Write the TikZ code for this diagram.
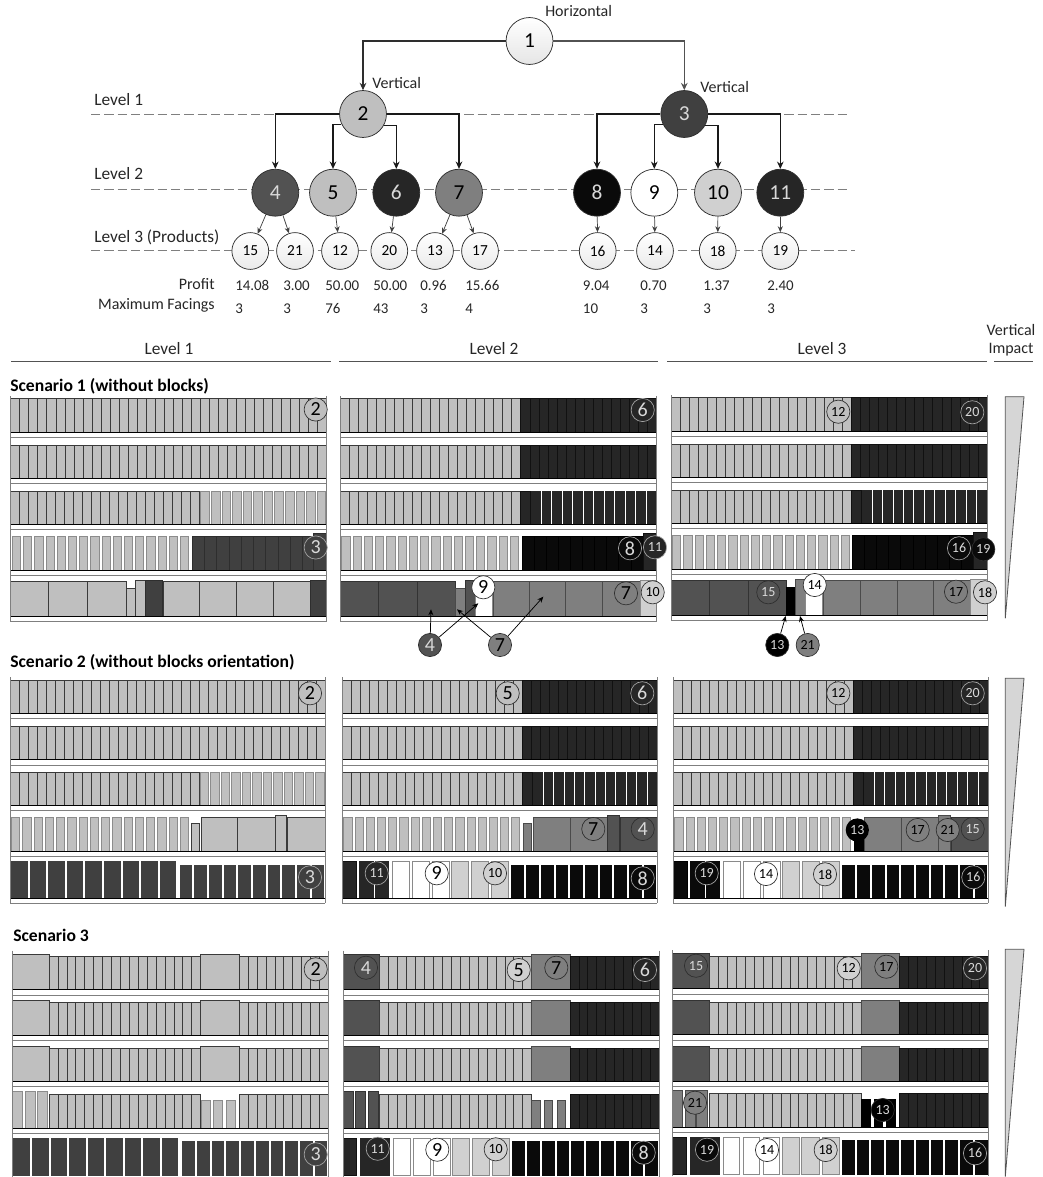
\documentclass[tikz,border=0pt]{standalone}
\usepackage{fontspec}
\setmainfont{Carlito}
\usetikzlibrary{arrows.meta}
\definecolor{gA}{HTML}{BFBFBF}\definecolor{gAe}{HTML}{3A3A3A}\definecolor{gAg}{HTML}{8C8C8C}
\definecolor{gD}{HTML}{404040}\definecolor{gDe}{HTML}{2E2E2E}\definecolor{gDg}{HTML}{404040}
\definecolor{gE}{HTML}{525252}\definecolor{gEe}{HTML}{333333}\definecolor{gEg}{HTML}{525252}
\definecolor{gF}{HTML}{262626}\definecolor{gFe}{HTML}{111111}\definecolor{gFg}{HTML}{262626}
\definecolor{gG}{HTML}{7F7F7F}\definecolor{gGe}{HTML}{4A4A4A}\definecolor{gGg}{HTML}{7F7F7F}
\definecolor{gK}{HTML}{0A0A0A}\definecolor{gKe}{HTML}{000000}\definecolor{gKg}{HTML}{0A0A0A}
\definecolor{gB}{HTML}{000000}\definecolor{gBe}{HTML}{000000}\definecolor{gBg}{HTML}{000000}
\definecolor{gW}{HTML}{FFFFFF}\definecolor{gWe}{HTML}{8A8A8A}\definecolor{gWg}{HTML}{8A8A8A}
\definecolor{gL}{HTML}{D0D0D0}\definecolor{gLe}{HTML}{8A8A8A}\definecolor{gLg}{HTML}{8A8A8A}
\definecolor{tl}{HTML}{D9D9D9}
\definecolor{shelf}{HTML}{7F7F7F}
\definecolor{ringl}{HTML}{A6A6A6}
\tikzset{
  bigc/.style={circle,draw=gDe,line width=.55pt,minimum size=35.2pt,inner sep=0pt,font=\fontsize{16}{18}\selectfont},
  smallc/.style={circle,draw=gDe,line width=.55pt,minimum size=27.6pt,inner sep=0pt,font=\fontsize{11.5}{13}\selectfont,top color=white,bottom color=black!8},
  labA/.style={circle,draw=gDe,line width=.5pt,minimum size=17.4pt,inner sep=0pt,font=\fontsize{15}{16}\selectfont},
  labB/.style={circle,draw=gDe,line width=.5pt,minimum size=17.4pt,inner sep=0pt,font=\fontsize{10.5}{12}\selectfont},
  onDark/.style={draw=ringl,text=tl},
  txt/.style={inner sep=0pt,font=\fontsize{12}{14}\selectfont,text=black!85},
  lev/.style={inner sep=0pt,font=\fontsize{13}{15}\selectfont,text=black!85},
  val/.style={inner sep=0pt,anchor=mid west,font=\fontsize{11.2}{13}\selectfont,text=black!85},
  head/.style={inner sep=0pt,anchor=mid west,font=\fontsize{13.2}{15}\bfseries\selectfont},
  link/.style={line width=.85pt,draw=black!90,-{Stealth[length=5.5pt,width=5pt]}},
  thin link/.style={line width=.55pt,draw=gD,-{Stealth[length=4.5pt,width=3.8pt]}},
  dashline/.style={line width=.7pt,draw=gG,dash pattern=on 7pt off 3pt},
  rulel/.style={line width=.7pt,draw=gE},
  wedge/.style={draw=gE,line width=.6pt,fill=black!16},
}
% facings: x0,x1,top,bottom,n,colour,gap
\newcommand\fac[7]{%
  \pgfmathsetmacro\facw{(#2-#1)/#5}%
  \ifdim #7pt>0pt\def\facedge{#6g}\else\def\facedge{#6e}\fi
  \foreach \i in {1,...,#5}{%
    \pgfmathsetmacro\xa{#1+(\i-1)*\facw+#7/2}%
    \pgfmathsetmacro\xb{#1+\i*\facw-#7/2}%
    \path[fill=#6,draw=\facedge,line width=.5pt] (\xa,#3) rectangle (\xb,#4);
  }}
% frame of a unit: width, top, bottom, shelf ys, row bottoms
\newcommand\unitframe[5]{%
  \foreach \yy in {#5}{\draw[black,line width=.75pt] (0,\yy) -- (#1,\yy);}
  \foreach \yy in {#4}{\draw[shelf,line width=.75pt] (0,\yy) -- (#1,\yy);}
  \draw[shelf,line width=.6pt] (0,#2) -- (0,#3) (#1,#2) -- (#1,#3);}
% common three upper rows of levels 2 and 3
\newcommand\splitrow[3]{\fac{0}{180.5}{#1}{#2}{20}{gA}{0}\fac{180.5}{#3}{#1}{#2}{15}{gF}{0}}
\newcommand\splitgap[3]{\fac{0}{180.5}{#1}{#2}{20}{gA}{0}\fac{180.5}{190}{#1}{#2}{1}{gF}{0}\fac{190.5}{#3}{#1}{#2}{12}{gF}{2}}
% lower row of scenarios 2 and 3, levels 2 and 3
\newcommand\lowrow[5]{% tall top, low top, bottom, width, colour of left part
  \fac{0}{13.6}{#1}{#3}{1}{#5}{0}\fac{16.7}{47}{#1}{#3}{2}{#5}{1.4}%
  \fac{50.3}{67}{#1}{#3}{1}{gW}{0}\fac{70.3}{87}{#1}{#3}{1}{gW}{0}\fac{90.3}{107}{#1}{#3}{1}{gW}{0}%
  \fac{109.3}{126.5}{#1}{#3}{1}{gL}{0}\fac{129}{146.5}{#1}{#3}{1}{gL}{0}\fac{149.3}{166.5}{#1}{#3}{1}{gL}{0}%
  \fac{168}{#4}{#2}{#3}{10}{gK}{3}}
\begin{document}
\begin{tikzpicture}[x=.75pt,y=-.75pt]
\useasboundingbox (0,0) rectangle (1042,1177);
% ---------- level guide lines
\coordinate (d1a) at (91,114.5); \coordinate (d1b) at (850,114.5);
\coordinate (d2a) at (91,189);   \coordinate (d2b) at (850,189);
\coordinate (d3a) at (91,250.7); \coordinate (d3b) at (855,250.7);
\draw[dashline] (d1a) -- (d1b);
\draw[dashline] (d2a) -- (d2b);
\draw[dashline] (d3a) -- (d3b);
% ---------- tree
\node[bigc,top color=white,bottom color=black!10] (n1) at (529.5,41) {1};
\node[bigc,fill=gA] (n2) at (363,114) {2};
\node[bigc,fill=gD,text=tl] (n3) at (684.3,114) {3};
\node[bigc,fill=gE,text=tl] (n4) at (275.3,192.7) {4};
\node[bigc,fill=gA] (n5) at (333,192.7) {5};
\node[bigc,fill=gF,text=tl] (n6) at (396.3,192.7) {6};
\node[bigc,fill=gG] (n7) at (459,192.7) {7};
\node[bigc,fill=gK,text=tl] (n8) at (597,192.7) {8};
\node[bigc,fill=white] (n9) at (654.3,192.7) {9};
\node[bigc,fill=gL] (n10) at (718,192.7) {10};
\node[bigc,fill=gF,text=tl] (n11) at (780.3,192.7) {11};
\node[smallc] (p15) at (250.3,251) {15};
\node[smallc] (p21) at (295,251) {21};
\node[smallc] (p12) at (340,251) {12};
\node[smallc] (p20) at (389.3,251) {20};
\node[smallc] (p13) at (435,251) {13};
\node[smallc] (p17) at (480,251) {17};
\node[smallc] (p16) at (597.7,251) {16};
\node[smallc] (p14) at (655,251) {14};
\node[smallc] (p18) at (717.7,251) {18};
\node[smallc] (p19) at (780.3,251) {19};
\draw[link,draw=gDe] (n1.west) -| (n2.north);
\draw[link,draw=gE] (n1.east) -| (n3.north);
\draw[link] (n2.west) -| (n4.north);
\draw[link] (n2.205) -| (n5.north);
\draw[link] (n2.330) -| (n6.north);
\draw[link] (n2.east) -| (n7.north);
\draw[link] (n3.west) -| (n8.north);
\draw[link] (n3.205) -| (n9.north);
\draw[link] (n3.330) -| (n10.north);
\draw[link] (n3.east) -| (n11.north);
\draw[thin link] (n4) -- (p15);
\draw[thin link] (n4) -- (p21);
\draw[thin link] (n5) -- (p12);
\draw[thin link] (n6) -- (p20);
\draw[thin link] (n7) -- (p13);
\draw[thin link] (n7) -- (p17);
\draw[thin link] (n8) -- (p16);
\draw[thin link] (n9) -- (p14);
\draw[thin link] (n10) -- (p18);
\draw[thin link] (n11) -- (p19);
\node[lev,anchor=mid west] (t1) at (94,102) {Level 1};
\node[lev,anchor=mid west] (t2) at (94,176) {Level 2};
\node[lev,anchor=mid west] (t3) at (94,239) {Level 3 (Products)};
\node[txt,anchor=mid west] (t4) at (545,13) {Horizontal};
\node[txt,anchor=mid west] (t5) at (372,85) {Vertical};
\node[txt,anchor=mid west] (t6) at (700,89) {Vertical};
\node[txt,anchor=mid east] (t7) at (215,286) {Profit};
\node[txt,anchor=mid east] (t8) at (215,306) {Maximum Facings};
\foreach \nm/\xx/\pv/\mv in {a/235/14.08/3,b/283/3.00/3,c/325/50.00/76,d/373/50.00/43,e/420/0.96/3,f/465/15.66/4,g/582.7/9.04/10,h/640/0.70/3,i/703/1.37/3,j/767/2.40/3}{
  \node[val] (pf\nm) at (\xx,287) {\pv};
  \node[val] (mf\nm) at (\xx,310) {\mv};
}
\node[lev] (h1) at (169,349) {Level 1};
\node[lev] (h2) at (494,349) {Level 2};
\node[lev] (h3) at (822,349) {Level 3};
\node[txt] (h4) at (1011,330) {Vertical};
\node[txt] (h5) at (1011,350) {Impact};
\draw[rulel] (11,361) -- (331,361);
\draw[rulel] (339,361) -- (658,361);
\draw[rulel] (667,361) -- (987,361);
\draw[rulel] (994,361) -- (1033,361);
\node[head] (s1) at (10,388) {Scenario 1 (without blocks)};
\node[head] (s2) at (10,664) {Scenario 2 (without blocks orientation)};
\node[head] (s3) at (13,938) {Scenario 3};
% ---------- wedges
\draw[wedge] (1005.3,396.7) -- (1024,396.7) -- (1005.3,618.3) -- cycle;
\draw[wedge] (1005.3,678.3) -- (1024,678.3) -- (1005.3,906.7) -- cycle;
\draw[wedge] (1005.3,949.3) -- (1024,949.3) -- (1005.3,1176.7) -- cycle;
% ========== SCENARIO 1
\begin{scope}[shift={(10.7,0)}]
\fac{0}{316}{398.3}{432.3}{35}{gA}{0}
\fac{0}{316}{445}{478.3}{35}{gA}{0}
\fac{0}{189}{491}{524.3}{21}{gA}{0}\fac{189}{316}{491}{524.3}{12}{gA}{2}
\fac{0}{179.5}{536.7}{570.3}{16}{gA}{3}\fac{181.7}{316}{536.7}{570.3}{11}{gD}{0}\fac{302.7}{316}{533.3}{570.3}{1}{gD}{0}
\fac{0}{38}{581.7}{616}{1}{gA}{0}\fac{38}{77}{581.7}{616}{1}{gA}{0}\fac{77}{115.5}{581.7}{616}{1}{gA}{0}
\fac{115.5}{125}{588}{616}{1}{gA}{0}\fac{125}{135}{580.5}{616}{1}{gA}{0}\fac{135}{152}{580}{616}{1}{gD}{0}
\fac{152.7}{189}{581.7}{616}{1}{gA}{0}\fac{189}{225.5}{581.7}{616}{1}{gA}{0}\fac{225.5}{262.5}{581.7}{616}{1}{gA}{0}\fac{262.5}{299.5}{581.7}{616}{1}{gA}{0}
\fac{299.5}{316}{580}{616}{1}{gD}{0}
\unitframe{316}{396}{622}{437.3,483.3,529.3,575,621.7}{432.3,478.3,524.3,570.3,616}
\end{scope}
\begin{scope}[shift={(340.3,0)}]
\splitrow{398.3}{432.3}{316.3}
\splitrow{445}{478.3}{316.3}
\splitgap{491}{524.3}{316.3}
\fac{0}{179.7}{536.7}{570.3}{16}{gA}{3}\fac{181.7}{302.7}{536.7}{570.3}{10}{gK}{0}\fac{302.7}{316.3}{533.3}{570.3}{1}{gF}{0}
\fac{0}{38}{581.7}{616}{1}{gE}{0}\fac{38}{77}{581.7}{616}{1}{gE}{0}\fac{77}{115.3}{581.7}{616}{1}{gE}{0}
\fac{115.3}{124.7}{588}{616}{1}{gG}{0}\fac{124.7}{135.3}{580}{616}{1}{gE}{0}\fac{135.3}{152}{580}{616}{1}{gW}{0}
\fac{152.7}{189}{581.7}{616}{1}{gG}{0}\fac{189}{225}{581.7}{616}{1}{gG}{0}\fac{225}{262.3}{581.7}{616}{1}{gG}{0}\fac{262.3}{299.7}{581.7}{616}{1}{gG}{0}
\fac{299.7}{316.3}{580}{616}{1}{gL}{0}
\unitframe{316.3}{396}{622}{437.3,483.3,529.3,575,621.7}{432.3,478.3,524.3,570.3,616}
\end{scope}
\begin{scope}[shift={(671,-1)}]
\splitrow{398.3}{432.3}{316}
\splitrow{445}{478.3}{316}
\splitgap{491}{524.3}{316}
\fac{0}{180}{536.7}{570.3}{16}{gA}{3}\fac{181}{302.7}{536.7}{570.3}{10}{gK}{0}\fac{302.7}{316}{533.3}{570.3}{1}{gF}{0}
\fac{0}{38.3}{581.7}{616}{1}{gE}{0}\fac{38.3}{77}{581.7}{616}{1}{gE}{0}\fac{77}{115}{581.7}{616}{1}{gE}{0}
\fac{115}{124.7}{588}{616}{1}{gB}{0}\fac{124.7}{134.7}{580.5}{616}{1}{gG}{0}\fac{134.7}{151.3}{580.5}{616}{1}{gW}{0}
\fac{152.7}{189}{581.7}{616}{1}{gG}{0}\fac{189}{226}{581.7}{616}{1}{gG}{0}\fac{226}{262.3}{581.7}{616}{1}{gG}{0}\fac{262.3}{299}{581.7}{616}{1}{gG}{0}
\fac{299}{316}{580}{616}{1}{gL}{0}
\unitframe{316}{396}{622}{437.3,483.3,529.3,575,621.7}{432.3,478.3,524.3,570.3,616}
\end{scope}
% ========== SCENARIO 2
\begin{scope}[shift={(10,0)}]
\fac{0}{315}{680}{713.3}{35}{gA}{0}
\fac{0}{315}{726}{759.3}{35}{gA}{0}
\fac{0}{189}{772.3}{805.7}{21}{gA}{0}\fac{189}{315}{772.3}{805.7}{12}{gA}{2}
\fac{0}{180}{817.7}{851}{16}{gA}{3}\fac{181}{189.5}{823.3}{851}{1}{gA}{0}
\fac{191}{227.3}{817.7}{851}{1}{gA}{0}\fac{227.3}{265}{817.7}{851}{1}{gA}{0}\fac{265}{276.7}{815}{851}{1}{gA}{0}\fac{277.3}{315}{817.7}{851}{1}{gA}{0}
\fac{0}{167}{861}{898.3}{9}{gD}{3}\fac{168.7}{315}{865}{898.3}{10}{gD}{3}
\unitframe{315}{677}{903.3}{718.7,765,810.7,856.7,903.3}{713.3,759.3,805.7,851,898.3}
\end{scope}
\begin{scope}[shift={(342.3,0)}]
\splitrow{680}{713.3}{315}
\splitrow{726}{759.3}{315}
\splitgap{772.3}{805.7}{315}
\fac{0}{179}{817.7}{851}{16}{gA}{3}\fac{181}{189.3}{823.3}{851}{1}{gG}{0}
\fac{191}{227.7}{817.7}{851}{1}{gG}{0}\fac{227.7}{265.3}{817.7}{851}{1}{gG}{0}\fac{265.3}{276.7}{815}{851}{1}{gE}{0}\fac{277.7}{315}{817.7}{851}{1}{gE}{0}
\lowrow{861.7}{865.7}{898.3}{315}{gF}
\unitframe{315}{677}{903.3}{718.7,765,810.7,856.7,903.3}{713.3,759.3,805.7,851,898.3}
\end{scope}
\begin{scope}[shift={(673.3,0)}]
\splitrow{680}{713.3}{315}
\splitrow{726}{759.3}{315}
\splitgap{772.3}{805.7}{315}
\fac{0}{179}{817.7}{851}{16}{gA}{3}\fac{181}{190}{823.3}{851}{1}{gB}{0}
\fac{191}{227.7}{817.7}{851}{1}{gG}{0}\fac{227.7}{265.3}{817.7}{851}{1}{gG}{0}\fac{265.3}{276.7}{815}{851}{1}{gG}{0}\fac{277.7}{315}{817.7}{851}{1}{gE}{0}
\lowrow{861.7}{865.7}{898.3}{315}{gK}
\unitframe{315}{677}{903.3}{718.7,765,810.7,856.7,903.3}{713.3,759.3,805.7,851,898.3}
\end{scope}
% ========== SCENARIO 3
\begin{scope}[shift={(12.3,0)}]
\foreach \ta/\tb/\bt in {956.7/954/989.3,1002.7/1000.7/1035.3,1048.7/1046.7/1081.7}{
  \fac{0}{36.7}{\tb}{\bt}{1}{gA}{0}\fac{36.7}{188.3}{\ta}{\bt}{17}{gA}{0}\fac{188.3}{227}{\tb}{\bt}{1}{gA}{0}\fac{227}{316}{\ta}{\bt}{10}{gA}{0}
}
\fac{0}{10}{1091}{1128.3}{1}{gA}{.01}\fac{12.7}{22.7}{1091}{1128.3}{1}{gA}{.01}\fac{25}{35}{1091}{1128.3}{1}{gA}{.01}
\fac{36.7}{188.3}{1094.3}{1128.3}{17}{gA}{0}
\fac{189}{197.7}{1100.3}{1128.3}{1}{gA}{.01}\fac{201}{210.3}{1100.3}{1128.3}{1}{gA}{.01}\fac{214}{222.7}{1100.3}{1128.3}{1}{gA}{.01}
\fac{227}{316}{1094.3}{1128.3}{10}{gA}{0}
\fac{0}{167}{1138}{1175}{9}{gD}{3}\fac{168.7}{316}{1141.3}{1175}{10}{gD}{3}
\unitframe{316}{950.7}{1176.5}{995,1040.7,1086.7,1133.3}{989.3,1035.3,1081.7,1128.3}
\end{scope}
\begin{scope}[shift={(343,0)}]
\foreach \ta/\tb/\bt in {956.7/954/989.3,1002.7/1000.7/1035.3,1048.7/1046.7/1081.7}{
  \fac{0}{36.7}{\tb}{\bt}{1}{gE}{0}\fac{36.7}{188.7}{\ta}{\bt}{17}{gA}{0}\fac{188.7}{227}{\tb}{\bt}{1}{gG}{0}\fac{227}{316}{\ta}{\bt}{10}{gF}{0}
}
\fac{0}{10}{1091}{1128.3}{1}{gE}{0}\fac{12.7}{22.7}{1091}{1128.3}{1}{gE}{0}\fac{25.3}{35.3}{1091}{1128.3}{1}{gE}{0}
\fac{36.7}{188.7}{1094.3}{1128.3}{17}{gA}{0}
\fac{188.7}{197}{1100.3}{1128.3}{1}{gG}{0}\fac{201.3}{209.7}{1100.3}{1128.3}{1}{gG}{0}\fac{214.3}{222.7}{1100.3}{1128.3}{1}{gG}{0}
\fac{227}{316}{1094.3}{1128.3}{10}{gF}{0}
\lowrow{1138}{1141.3}{1175}{316}{gF}
\unitframe{316}{950.7}{1176.5}{995,1040.7,1086.7,1133.3}{989.3,1035.3,1081.7,1128.3}
\end{scope}
\begin{scope}[shift={(672.7,-.5)}]
\foreach \ta/\tb/\bt in {956.7/954/989.3,1002.7/1000.7/1035.3,1048.7/1046.7/1081.7}{
  \fac{0}{36.7}{\tb}{\bt}{1}{gE}{0}\fac{36.7}{188.7}{\ta}{\bt}{17}{gA}{0}\fac{188.7}{227}{\tb}{\bt}{1}{gG}{0}\fac{227}{316}{\ta}{\bt}{10}{gF}{0}
}
\fac{0}{10}{1091}{1128.3}{1}{gG}{0}\fac{12.3}{22.3}{1091}{1128.3}{1}{gG}{0}\fac{24}{35}{1091}{1128.3}{1}{gG}{0}
\fac{36.7}{188.7}{1094.3}{1128.3}{17}{gA}{0}
\fac{188.7}{197.3}{1100.3}{1128.3}{1}{gB}{0}\fac{201.3}{209.7}{1100.3}{1128.3}{1}{gB}{0}\fac{214}{222.3}{1100.3}{1128.3}{1}{gB}{0}
\fac{227}{316}{1094.3}{1128.3}{10}{gF}{0}
\lowrow{1138}{1141.3}{1175}{316}{gF}
\unitframe{316}{950.7}{1176.5}{995,1040.7,1086.7,1133.3}{989.3,1035.3,1081.7,1128.3}
\end{scope}
% ========== shelf labels, scenario 1
\node[labA,fill=gA] (a1) at (315.7,409.5) {2};
\node[labA,fill=gD,onDark] (a2) at (315.7,547.5) {3};
\node[labA,fill=gF,onDark] (a3) at (642.7,410) {6};
\node[labA,fill=gK,onDark] (a4) at (630,548.3) {8};
\node[labB,fill=gF,onDark] (a5) at (655,547.3) {11};
\node[labA,fill=gG] (a6) at (626,593.3) {7};
\node[labB,fill=gL] (a7) at (652.7,592.3) {10};
\node[labA,fill=white] (a8) at (483.3,587.3) {9};
\node[labA,fill=gE,text=tl] (a9) at (430,645) {4};
\node[labA,fill=gG] (a10) at (500,645) {7};
\node[labB,fill=gA] (a11) at (838.3,411.7) {12};
\node[labB,fill=gF,onDark] (a12) at (972.3,412.3) {20};
\node[labB,fill=gK,onDark] (a13) at (959,548.3) {16};
\node[labB,fill=gK,text=tl] (a14) at (983.3,549.3) {19};
\node[labB,fill=gE,text=tl] (a15) at (768.3,592.3) {15};
\node[labB,fill=white] (a16) at (814.7,585) {14};
\node[labB,fill=gG] (a17) at (956,591.7) {17};
\node[labB,fill=gL] (a18) at (985,592.3) {18};
\node[labB,fill=gB,text=tl] (a19) at (777.3,645) {13};
\node[labB,fill=gG] (a20) at (807.7,645) {21};
\coordinate (e1) at (431,609.3);
\coordinate (e2) at (478.3,603.3);
\coordinate (e3) at (457,609.3);
\coordinate (e4) at (543.3,596.7);
\coordinate (e5) at (785.7,616);
\coordinate (e6) at (800,616);
\draw[thin link,draw=black] (a9) -- (e1);
\draw[thin link,draw=black] (a9) -- (e2);
\draw[thin link,draw=black] (a10) -- (e3);
\draw[thin link,draw=black] (a10) -- (e4);
\draw[thin link,draw=black] (a19) -- (e5);
\draw[thin link,draw=black] (a20) -- (e6);
% ========== shelf labels, scenario 2
\node[labA,fill=gA] (b1) at (310,693.3) {2};
\node[labA,fill=gD,onDark] (b2) at (310,877.3) {3};
\node[labA,fill=gA] (b3) at (507.7,693.3) {5};
\node[labA,fill=gF,onDark] (b4) at (642.3,693.3) {6};
\node[labA,fill=gG] (b5) at (593.3,829) {7};
\node[labA,fill=gE,text=tl] (b6) at (642.7,829) {4};
\node[labB,fill=gF,onDark] (b7) at (376.7,873.3) {11};
\node[labA,fill=white] (b8) at (436.7,873.3) {9};
\node[labB,fill=gL] (b9) at (495,873.3) {10};
\node[labA,fill=gK,onDark] (b10) at (642.7,878.3) {8};
\node[labB,fill=gA] (b11) at (838.3,693.3) {12};
\node[labB,fill=gF,onDark] (b12) at (972.7,693.3) {20};
\node[labB,fill=gB,text=tl,draw=none] (b13) at (857.3,830) {13};
\node[labB,fill=gG] (b14) at (917.7,830) {17};
\node[labB,fill=gG] (b15) at (947.7,830) {21};
\node[labB,fill=gE,text=tl] (b16) at (972.7,829) {15};
\node[labB,fill=gK,onDark] (b17) at (706.7,873.3) {19};
\node[labB,fill=white] (b18) at (766,874) {14};
\node[labB,fill=gL] (b19) at (825,874.3) {18};
\node[labB,fill=gK,onDark] (b20) at (973.3,877.3) {16};
% ========== shelf labels, scenario 3
\node[labA,fill=gA] (c1) at (315.7,969.3) {2};
\node[labA,fill=gD,onDark] (c2) at (315.7,1154.3) {3};
\node[labA,fill=gE,text=tl] (c3) at (366,967.7) {4};
\node[labA,fill=gL] (c4) at (518.7,970) {5};
\node[labA,fill=gG] (c5) at (556.3,967.7) {7};
\node[labA,fill=gF,onDark] (c6) at (645,970) {6};
\node[labB,fill=gF,onDark] (c7) at (377.7,1148.7) {11};
\node[labA,fill=white] (c8) at (437.3,1149.7) {9};
\node[labB,fill=gL] (c9) at (495.7,1149.3) {10};
\node[labA,fill=gK,onDark] (c10) at (643.7,1152.7) {8};
\node[labB,fill=gE,text=tl] (c11) at (696,965.7) {15};
\node[labB,fill=gL] (c12) at (848.7,968.3) {12};
\node[labB,fill=gG] (c13) at (886.3,966.7) {17};
\node[labB,fill=gF,onDark] (c14) at (975,968.3) {20};
\node[labB,fill=gG] (c15) at (695,1102.7) {21};
\node[labB,fill=gB,text=tl] (c16) at (882.7,1110) {13};
\node[labB,fill=gK,onDark] (c17) at (707,1149.7) {19};
\node[labB,fill=white] (c18) at (767,1150) {14};
\node[labB,fill=gL] (c19) at (825.7,1150) {18};
\node[labB,fill=gK,onDark] (c20) at (975,1153.3) {16};
\end{tikzpicture}
\end{document}
